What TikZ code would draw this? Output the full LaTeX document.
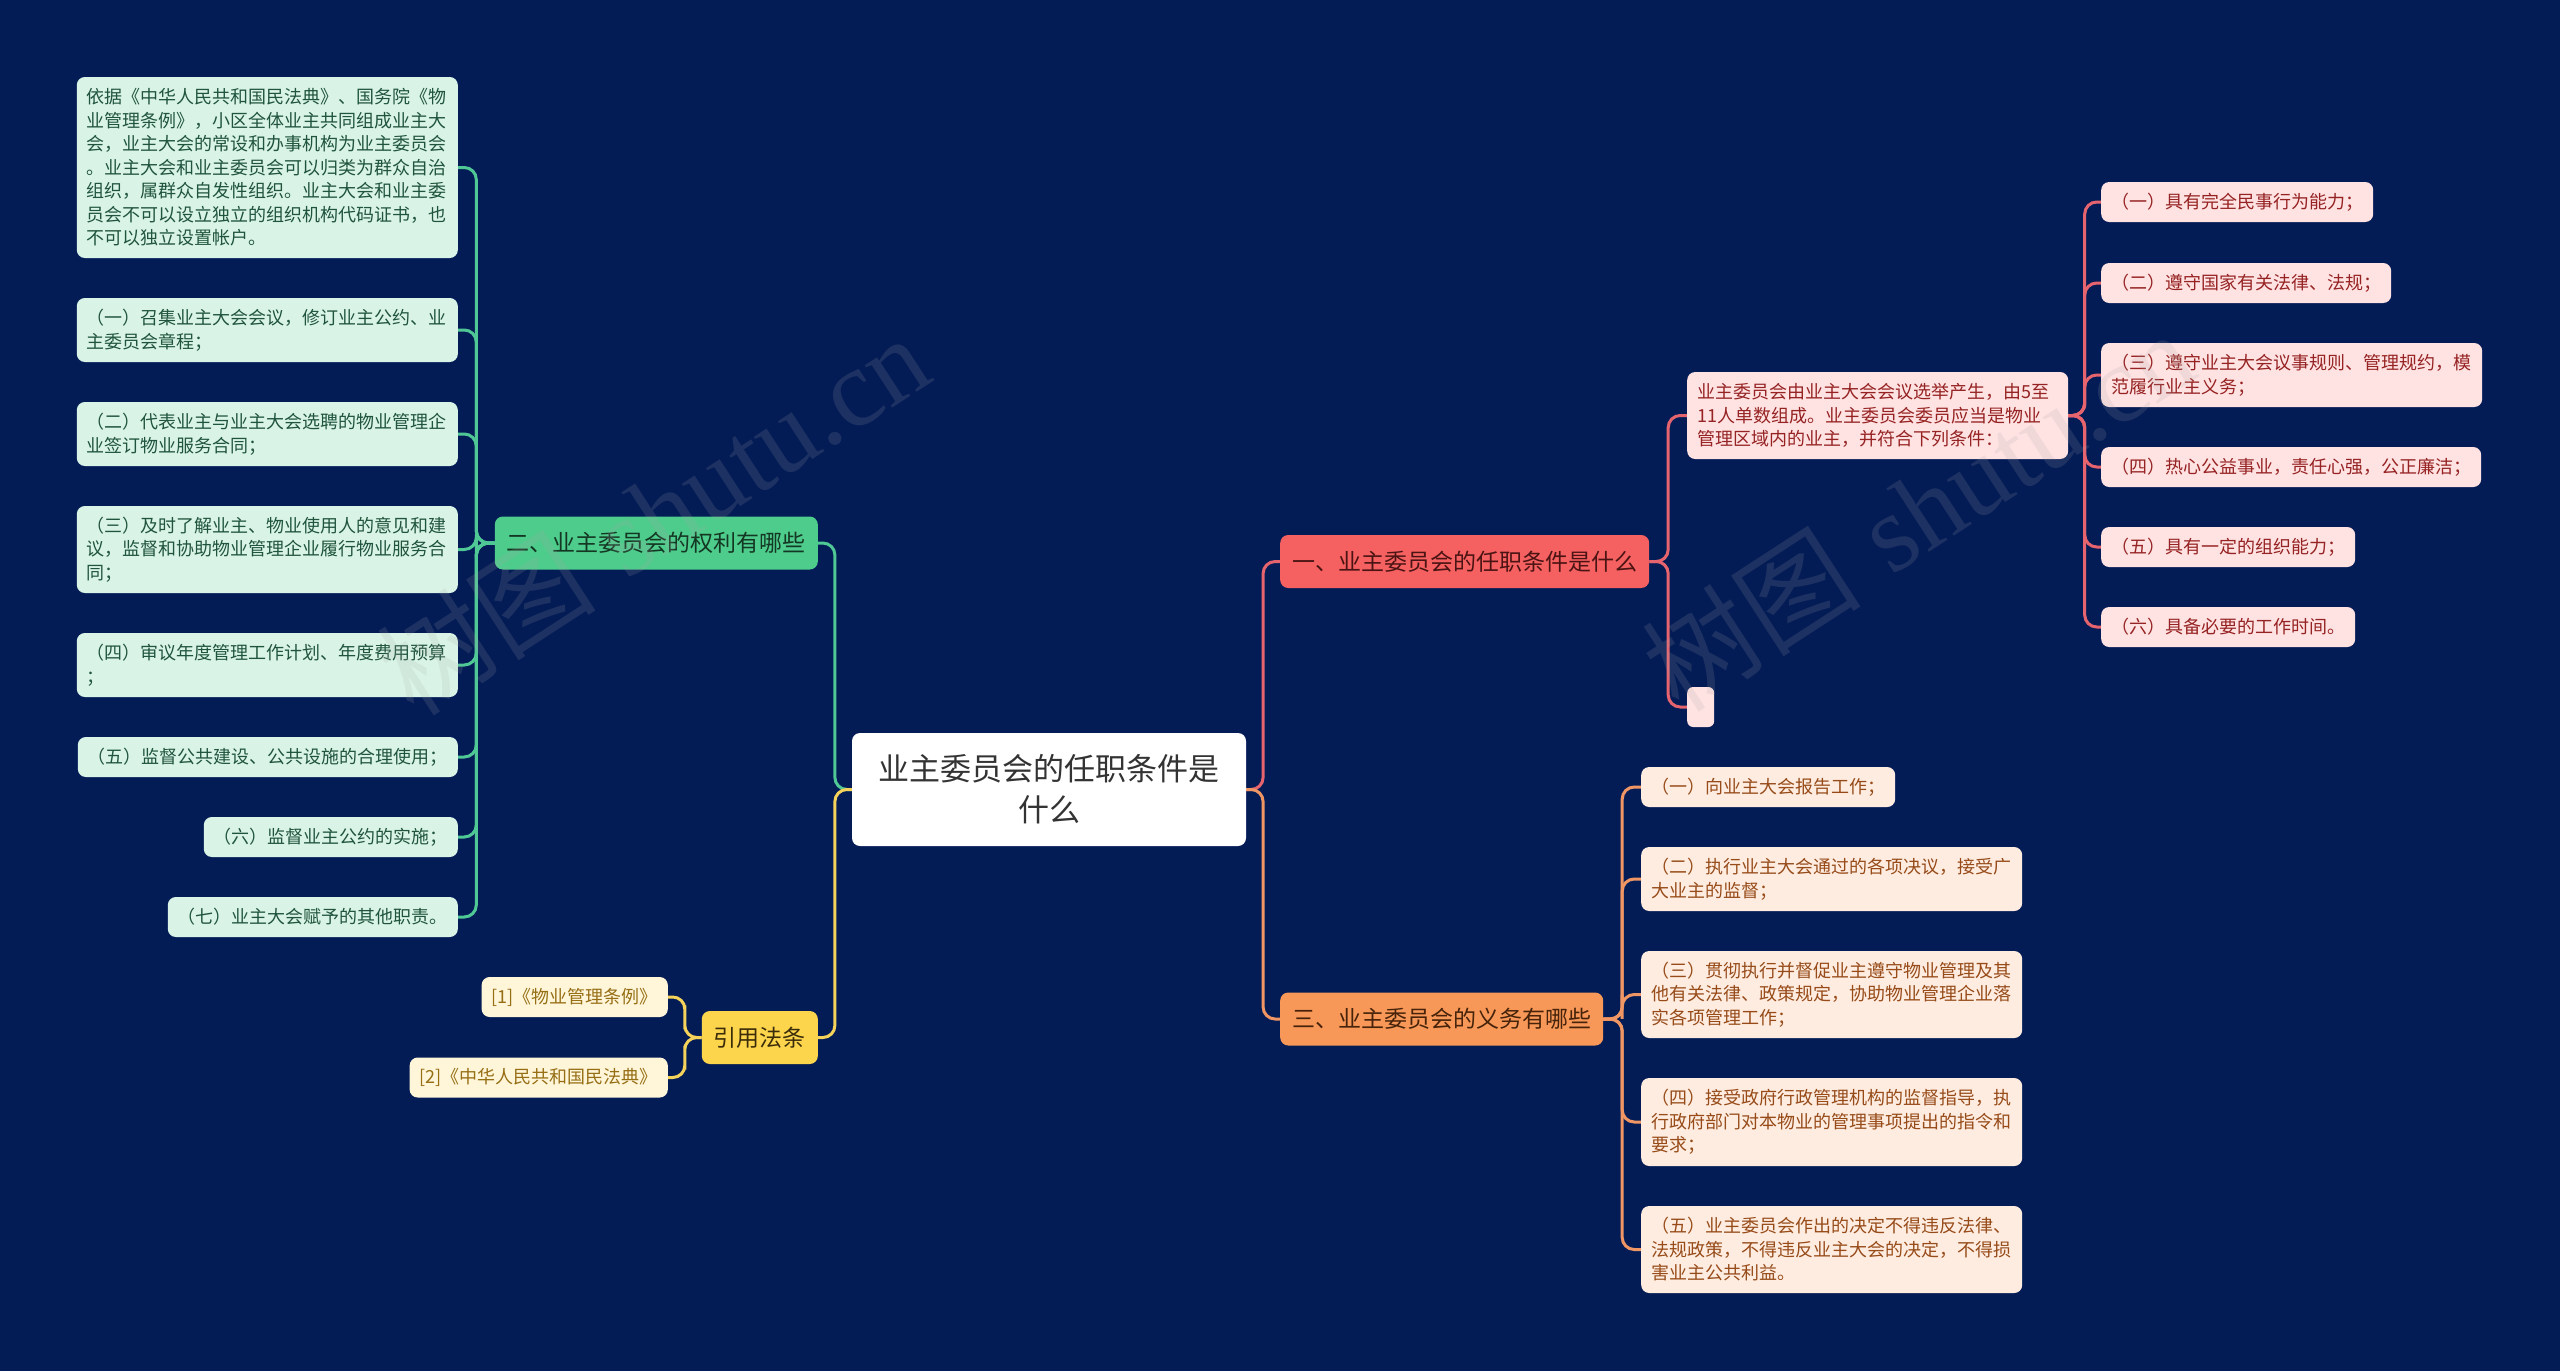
\documentclass[tikz,border=0pt]{standalone}
\usepackage{fontspec}
\newfontfamily\cjk{Noto Sans CJK SC}
\newfontfamily\wmfont{Liberation Serif}
\usetikzlibrary{calc,backgrounds}
\definecolor{bg}{RGB}{3,28,86}
\definecolor{gMain}{RGB}{78,204,140}
\definecolor{gLeaf}{RGB}{217,244,230}
\definecolor{gText}{RGB}{32,84,60}
\definecolor{gMainText}{RGB}{20,55,35}
\definecolor{gLine}{RGB}{80,200,150}
\definecolor{rMain}{RGB}{245,96,96}
\definecolor{rLeaf}{RGB}{255,226,226}
\definecolor{rText}{RGB}{150,35,35}
\definecolor{rMainText}{RGB}{75,20,20}
\definecolor{rLine}{RGB}{230,100,110}
\definecolor{oMain}{RGB}{248,152,88}
\definecolor{oLeaf}{RGB}{255,236,224}
\definecolor{oText}{RGB}{150,75,25}
\definecolor{oMainText}{RGB}{70,35,10}
\definecolor{oLine}{RGB}{240,150,100}
\definecolor{yMain}{RGB}{253,213,77}
\definecolor{yLeaf}{RGB}{255,246,218}
\definecolor{yText}{RGB}{150,110,20}
\definecolor{yMainText}{RGB}{60,45,10}
\definecolor{yLine}{RGB}{245,210,90}
\definecolor{cText}{RGB}{51,51,51}
\newcommand\linkR[3]{\draw[#1] (#2.east) -| ($(#2.east)!.5!(#3.west)$) |- (#3.west);}
\newcommand\linkL[3]{\draw[#1] (#2.west) -| ($(#2.west)!.5!(#3.east)$) |- (#3.east);}
\tikzset{
  box/.style={rounded corners=8pt, inner xsep=10pt, inner ysep=5pt, minimum height=40pt},
  leaf/.style={box, font=\cjk\fontsize{18pt}{23.5pt}\selectfont, align=left},
  wide/.style={text width=361pt},
  mainbox/.style={rounded corners=8pt, inner xsep=12pt, inner ysep=5pt, minimum height=53pt, font=\cjk\fontsize{23pt}{28pt}\selectfont},
  gleaf/.style={leaf, fill=gLeaf, text=gText},
  rleaf/.style={leaf, fill=rLeaf, text=rText},
  oleaf/.style={leaf, fill=oLeaf, text=oText},
  yleaf/.style={leaf, fill=yLeaf, text=yText},
  conn/.style={line width=3pt, rounded corners=12pt},
  watermark/.style={rotate=33, opacity=.16, text=gray!70, font=\fontsize{110pt}{110pt}\selectfont}
}
\begin{document}
\begin{tikzpicture}[x=1pt,y=-1pt]
\useasboundingbox (0,0) rectangle (2560,1371);
% center
\node[rounded corners=8pt, fill=white, text=cText, minimum width=394pt, minimum height=113pt, align=center, font=\cjk\fontsize{31pt}{41pt}\selectfont] (c) at (1049,789.5) {业主委员会的任职条件是\\什么};
% main nodes
\node[mainbox, fill=gMain, text=gMainText, anchor=east] (g) at (818,543) {二、业主委员会的权利有哪些};
\node[mainbox, fill=yMain, text=yMainText, anchor=east] (y) at (818,1037.5) {引用法条};
\node[mainbox, fill=rMain, text=rMainText, anchor=west] (r) at (1280,561.5) {一、业主委员会的任职条件是什么};
\node[mainbox, fill=oMain, text=oMainText, anchor=west] (o) at (1280,1019) {三、业主委员会的义务有哪些};
% green leaves
\node[gleaf, wide, anchor=east, minimum height=181pt] (g1) at (458,167.5) {依据《中华人民共和国民法典》、国务院《物\\业管理条例》，小区全体业主共同组成业主大\\会，业主大会的常设和办事机构为业主委员会\\。业主大会和业主委员会可以归类为群众自治\\组织，属群众自发性组织。业主大会和业主委\\员会不可以设立独立的组织机构代码证书，也\\不可以独立设置帐户。};
\node[gleaf, wide, anchor=east, minimum height=64pt] (g2) at (458,330) {（一）召集业主大会会议，修订业主公约、业\\主委员会章程；};
\node[gleaf, wide, anchor=east, minimum height=64pt] (g3) at (458,434) {（二）代表业主与业主大会选聘的物业管理企\\业签订物业服务合同；};
\node[gleaf, wide, anchor=east, minimum height=87pt] (g4) at (458,549.5) {（三）及时了解业主、物业使用人的意见和建\\议，监督和协助物业管理企业履行物业服务合\\同；};
\node[gleaf, wide, anchor=east, minimum height=64pt] (g5) at (458,665) {（四）审议年度管理工作计划、年度费用预算\\；};
\node[gleaf, anchor=east] (g6) at (458,757) {（五）监督公共建设、公共设施的合理使用；};
\node[gleaf, anchor=east] (g7) at (458,837) {（六）监督业主公约的实施；};
\node[gleaf, anchor=east] (g8) at (458,917) {（七）业主大会赋予的其他职责。};
% yellow leaves
\node[yleaf, anchor=east, minimum width=185pt] (y1) at (668,997) {[1]《物业管理条例》};
\node[yleaf, anchor=east, minimum width=258pt] (y2) at (668,1077.5) {[2]《中华人民共和国民法典》};
% red branch
\node[rleaf, wide, anchor=west, minimum height=87pt] (r0) at (1687,415.5) {业主委员会由业主大会会议选举产生，由5至\\11人单数组成。业主委员会委员应当是物业\\管理区域内的业主，并符合下列条件：};
\node[rounded corners=6pt, fill=rLeaf, anchor=west, minimum width=27pt, minimum height=40pt, inner sep=0pt] (re) at (1687,707) {};
\node[rleaf, anchor=west] (r1) at (2101,202) {（一）具有完全民事行为能力；};
\node[rleaf, anchor=west] (r2) at (2101,283) {（二）遵守国家有关法律、法规；};
\node[rleaf, wide, anchor=west, minimum height=64pt] (r3) at (2101,375) {（三）遵守业主大会议事规则、管理规约，模\\范履行业主义务；};
\node[rleaf, anchor=west] (r4) at (2101,467) {（四）热心公益事业，责任心强，公正廉洁；};
\node[rleaf, anchor=west] (r5) at (2101,547) {（五）具有一定的组织能力；};
\node[rleaf, anchor=west] (r6) at (2101,627) {（六）具备必要的工作时间。};
% orange branch
\node[oleaf, anchor=west] (o1) at (1641,787) {（一）向业主大会报告工作；};
\node[oleaf, wide, anchor=west, minimum height=64pt] (o2) at (1641,879) {（二）执行业主大会通过的各项决议，接受广\\大业主的监督；};
\node[oleaf, wide, anchor=west, minimum height=87pt] (o3) at (1641,994.5) {（三）贯彻执行并督促业主遵守物业管理及其\\他有关法律、政策规定，协助物业管理企业落\\实各项管理工作；};
\node[oleaf, wide, anchor=west, minimum height=88pt] (o4) at (1641,1122) {（四）接受政府行政管理机构的监督指导，执\\行政府部门对本物业的管理事项提出的指令和\\要求；};
\node[oleaf, wide, anchor=west, minimum height=87pt] (o5) at (1641,1249.5) {（五）业主委员会作出的决定不得违反法律、\\法规政策，不得违反业主大会的决定，不得损\\害业主公共利益。};
% connectors
\begin{scope}[on background layer]
\fill[bg] (0,0) rectangle (2560,1371);
\linkL{conn, gLine}{c}{g}
\linkL{conn, yLine}{c}{y}
\linkR{conn, rLine}{c}{r}
\linkR{conn, oLine}{c}{o}
\foreach \k in {g1,g2,g3,g4,g5,g6,g7,g8} {\linkL{conn, gLine}{g}{\k}}
\foreach \k in {y1,y2} {\linkL{conn, yLine}{y}{\k}}
\foreach \k in {r0,re} {\linkR{conn, rLine}{r}{\k}}
\foreach \k in {r1,r2,r3,r4,r5,r6} {\linkR{conn, rLine}{r0}{\k}}
\foreach \k in {o1,o2,o3,o4,o5} {\linkR{conn, oLine}{o}{\k}}
\end{scope}
% watermarks
\node[watermark] (wm1) at (653,514) {{\cjk 树图} {\wmfont shutu.cn}};
\node[watermark] (wm2) at (1918,510) {{\cjk 树图} {\wmfont shutu.cn}};
\end{tikzpicture}
\end{document}
